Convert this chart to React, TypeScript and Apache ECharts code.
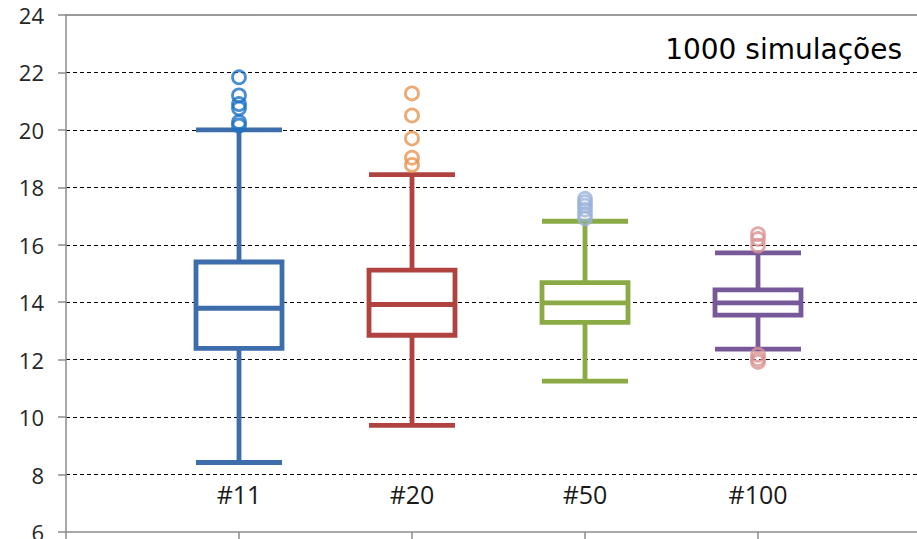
import React, { useEffect, useRef } from "react";
import * as echarts from "echarts";

const categories = ["", "#11", "#20", "#50", "#100", ""];
const boxNames = ["#11", "#20", "#50", "#100"];
const lowWhisker = [8.42, 9.71, 11.25, 12.37];
const q1 = [12.39, 12.85, 13.3, 13.55];
const median = [13.79, 13.92, 13.98, 13.98];
const q3 = [15.4, 15.12, 14.68, 14.43];
const highWhisker = [20.0, 18.44, 16.82, 15.72];
const outliers11 = [21.83, 21.2, 20.9, 20.75, 20.27, 20.15];
const outliers20 = [21.27, 20.5, 19.7, 19.03, 18.78];
const outliers50 = [17.6, 17.48, 17.36, 17.22, 17.06, 16.92];
const outliers100 = [16.37, 16.2, 15.97, 12.17, 12.02, 11.92];
const yTicks = { min: 6, max: 24, interval: 2 };
const title = "1000 simulações";

const boxColors = ["#3D6DAA", "#B04340", "#8AAA45", "#77599A"];
const outlierColors = ["#1B72C6", "#E8944E", "#9AB3D9", "#D99593"];

export default function App() {
  const ref = useRef<HTMLDivElement>(null);
  useEffect(() => {
    if (!ref.current) return;
    const chart = echarts.init(ref.current, null, { renderer: "svg" });
    const boxData: any[] = [{ value: ["-", "-", "-", "-", "-"] }];
    boxNames.forEach((_, i) => {
      boxData.push({
        value: [lowWhisker[i], q1[i], median[i], q3[i], highWhisker[i]],
        itemStyle: { borderColor: boxColors[i], color: "#ffffff", borderWidth: 4.8 },
      });
    });
    const outlierSets = [outliers11, outliers20, outliers50, outliers100];
    const scatterSeries = outlierSets.map((set, i) => ({
      type: "scatter",
      symbol: "circle",
      symbolSize: 13,
      z: 5,
      itemStyle: {
        color: "rgba(255,255,255,0)",
        borderColor: outlierColors[i],
        borderWidth: 2.8,
      },
      data: set.map((v) => [categories.indexOf(boxNames[i]), v]),
    }));
    const axisGray = "#8C8C8C";
    chart.setOption({
      animation: false,
      title: {
        text: title,
        right: 10,
        top: 30,
        textStyle: {
          fontFamily: "DejaVu Sans",
          fontSize: 28,
          fontWeight: "normal",
          color: "#000",
        },
      },
      grid: {
        left: 66,
        top: 15,
        width: 865,
        height: 517,
        containLabel: false,
        outerBoundsMode: "none",
      },
      xAxis: [
        {
          type: "category",
          data: categories,
          boundaryGap: false,
          axisLine: { show: true, lineStyle: { color: axisGray, width: 1.5 } },
          axisTick: {
            show: true,
            inside: false,
            length: 7,
            interval: 0,
            lineStyle: { color: axisGray, width: 1.5 },
          },
          axisLabel: {
            inside: true,
            margin: 26,
            interval: 0,
            fontSize: 25,
            fontFamily: "Open Sans",
            color: "#1a1a1a",
          },
          splitLine: { show: false },
        },
        {
          type: "category",
          data: categories,
          position: "top",
          boundaryGap: false,
          axisLine: { show: true, lineStyle: { color: "#7a7a7a", width: 1.5 } },
          axisTick: { show: false },
          axisLabel: { show: false },
          splitLine: { show: false },
        },
      ],
      yAxis: {
        type: "value",
        min: yTicks.min,
        max: yTicks.max,
        interval: yTicks.interval,
        axisLine: { show: true, lineStyle: { color: axisGray, width: 1.5 } },
        axisTick: { show: true, length: 8, lineStyle: { color: axisGray, width: 1.5 } },
        axisLabel: {
          margin: 22,
          fontSize: 22,
          fontFamily: "Open Sans",
          color: "#262626",
        },
        splitLine: {
          show: true,
          showMinLine: false,
          showMaxLine: false,
          lineStyle: { color: "#000000", width: 1, type: [4, 3] },
        },
      },
      series: [
        {
          type: "boxplot",
          boxWidth: [86, 86],
          z: 3,
          data: boxData,
        },
        ...scatterSeries,
      ],
    });
    return () => chart.dispose();
  }, []);
  return (
    <div
      ref={ref}
      style={{ position: "fixed", left: 0, top: 0, width: 917, height: 539, background: "#fff" }}
    />
  );
}
